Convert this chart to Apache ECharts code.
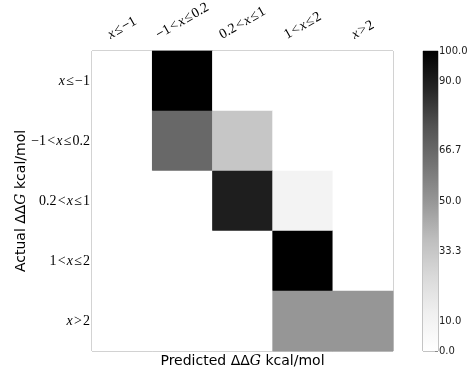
<!DOCTYPE html>
<html><head><meta charset="utf-8">
<script src="https://cdn.jsdelivr.net/npm/echarts@6/dist/echarts.min.js"></script>
<style>html,body{margin:0;padding:0;background:#fff}#c{width:474px;height:374px}</style>
</head><body><div id="c"></div>
<script>
// category labels as [prefix, italic x, rest] pieces
const categories = [
  ['', 'x', '\u200a≤\u200a−1'],
  ['−1\u200a<\u200a', 'x', '\u200a≤\u200a0.2'],
  ['0.2\u200a<\u200a', 'x', '\u200a≤\u200a1'],
  ['1\u200a<\u200a', 'x', '\u200a≤\u200a2'],
  ['', 'x', '\u200a>\u200a2']
];
// rows = actual, columns = predicted (percent)
const row0 = [0, 100, 0, 0, 0];
const row1 = [0, 66.7, 33.3, 0, 0];
const row2 = [0, 0, 90, 10, 0];
const row3 = [0, 0, 0, 100, 0];
const row4 = [0, 0, 0, 50, 50];
const colorbarTicks = [0, 10, 33.3, 50, 66.7, 90, 100];
const greys = ['#ffffff','#f0f0f0','#d9d9d9','#bdbdbd','#969696','#737373','#525252','#252525','#000000'];

const rows = [row0, row1, row2, row3, row4];
const data = [];
rows.forEach((r, yi) => r.forEach((v, xi) => data.push([xi, yi, v])));
const catIdx = categories.map((_, i) => String(i));
const FS = 14;
const fmtCat = (v) => { const c = categories[+v]; return (c[0] ? '{n|' + c[0] + '}' : '') + '{i|' + c[1] + '}{n|' + c[2] + '}'; };
const richMath = {
  n: {fontFamily: 'Liberation Serif', fontSize: FS, color: '#000'},
  i: {fontFamily: 'Liberation Serif', fontStyle: 'italic', fontSize: FS, color: '#000'}
};
// matplotlib-style rotated labels: rotated bounding box centred over the tick
const ctx = document.createElement('canvas').getContext('2d');
function measure(c) {
  ctx.font = FS + 'px "Liberation Serif"';
  let w = ctx.measureText(c[0] + c[2]).width;
  ctx.font = 'italic ' + FS + 'px "Liberation Serif"';
  return w + ctx.measureText(c[1]).width;
}
const topRich = Object.assign({}, richMath);
const H = 12, S30 = 0.5, C30 = Math.sqrt(3) / 2;
categories.forEach((c, k) => {
  const w = measure(c);
  const D = (S30 * w + C30 * H) / 2;
  topRich['a' + k] = {width: 2 * S30 * D, height: 1, fontSize: 1};
  topRich['b' + k] = {height: 2 * C30 * D, width: 1, fontSize: 1};
});
const fmtTop = (v) => '{a' + v + '|\u00a0}' + fmtCat(v) + '\n{b' + v + '|\u00a0}';

const frame = '#888';
const chart = echarts.init(document.getElementById('c'), null, {renderer: 'canvas'});
chart.setOption({
  animation: false,
  backgroundColor: '#fff',
  grid: [
    {left: 92, top: 51, width: 301, height: 300, show: true, borderColor: frame, borderWidth: 1, backgroundColor: 'transparent', outerBoundsMode: 'none', containLabel: false},
    {left: 423, top: 51, width: 15, height: 300, show: true, borderColor: frame, borderWidth: 1, backgroundColor: 'transparent', outerBoundsMode: 'none', containLabel: false}
  ],
  visualMap: {show: false, min: 0, max: 100, seriesIndex: 0, dimension: 2, inRange: {color: greys}},
  xAxis: [
    {type: 'category', gridIndex: 0, data: catIdx, position: 'top',
     axisLine: {show: false}, axisTick: {show: true, inside: true, length: 3, alignWithLabel: true, lineStyle: {color: frame}},
     axisLabel: {rotate: -30, margin: 10, align: 'center', verticalAlign: 'middle', formatter: fmtTop, rich: topRich, overflow: 'none', hideOverlap: false, interval: 0},
     splitLine: {show: false}, splitArea: {show: false}},
    {type: 'category', gridIndex: 0, data: catIdx, position: 'bottom',
     axisLine: {show: false}, axisTick: {show: true, inside: true, length: 3, alignWithLabel: true, lineStyle: {color: frame}},
     axisLabel: {show: false}, splitLine: {show: false},
     name: 'Predicted ΔΔ{i|G} kcal/mol', nameLocation: 'middle', nameGap: 3, nameMoveOverlap: false,
     nameTextStyle: {fontFamily: 'DejaVu Sans', fontSize: 14, color: '#000', verticalAlign: 'top',
       rich: {i: {fontFamily: 'DejaVu Serif', fontStyle: 'italic', fontSize: 14, color: '#000'}}}},
    {type: 'category', gridIndex: 1, data: ['c'], axisLine: {show: false}, axisTick: {show: false}, axisLabel: {show: false}}
  ],
  yAxis: [
    {type: 'category', gridIndex: 0, data: catIdx, inverse: true, position: 'left',
     axisLine: {show: false}, axisTick: {show: true, inside: true, length: 3, alignWithLabel: true, lineStyle: {color: frame}},
     axisLabel: {margin: 2, formatter: fmtCat, rich: richMath, overflow: 'none'},
     splitLine: {show: false},
     name: 'Actual ΔΔ{i|G} kcal/mol', nameLocation: 'middle', nameGap: 64, nameRotate: 90, nameMoveOverlap: false,
     nameTextStyle: {fontFamily: 'DejaVu Sans', fontSize: 14, color: '#000',
       rich: {i: {fontFamily: 'DejaVu Serif', fontStyle: 'italic', fontSize: 14, color: '#000'}}}},
    {type: 'category', gridIndex: 0, data: catIdx, inverse: true, position: 'right',
     axisLine: {show: false}, axisTick: {show: true, inside: true, length: 3, alignWithLabel: true, lineStyle: {color: frame}},
     axisLabel: {show: false}, splitLine: {show: false}},
    {type: 'value', gridIndex: 1, min: 0, max: 100, position: 'right',
     axisLine: {show: false},
     axisTick: {show: true, inside: true, length: 3, customValues: colorbarTicks, lineStyle: {color: frame}},
     axisLabel: {margin: 1, customValues: colorbarTicks, formatter: (v) => v.toFixed(1),
       fontFamily: 'DejaVu Sans', fontSize: 10, color: '#222'},
     splitLine: {show: false}}
  ],
  series: [
    {type: 'heatmap', xAxisIndex: 0, yAxisIndex: 0, data: data, itemStyle: {borderWidth: 0}},
    {type: 'bar', xAxisIndex: 2, yAxisIndex: 2, data: [100], barWidth: '100%', silent: true,
     itemStyle: {color: new echarts.graphic.LinearGradient(0, 0, 0, 1,
       greys.slice().reverse().map((c, i) => ({offset: i / (greys.length - 1), color: c})))}}
  ]
});
</script></body></html>
